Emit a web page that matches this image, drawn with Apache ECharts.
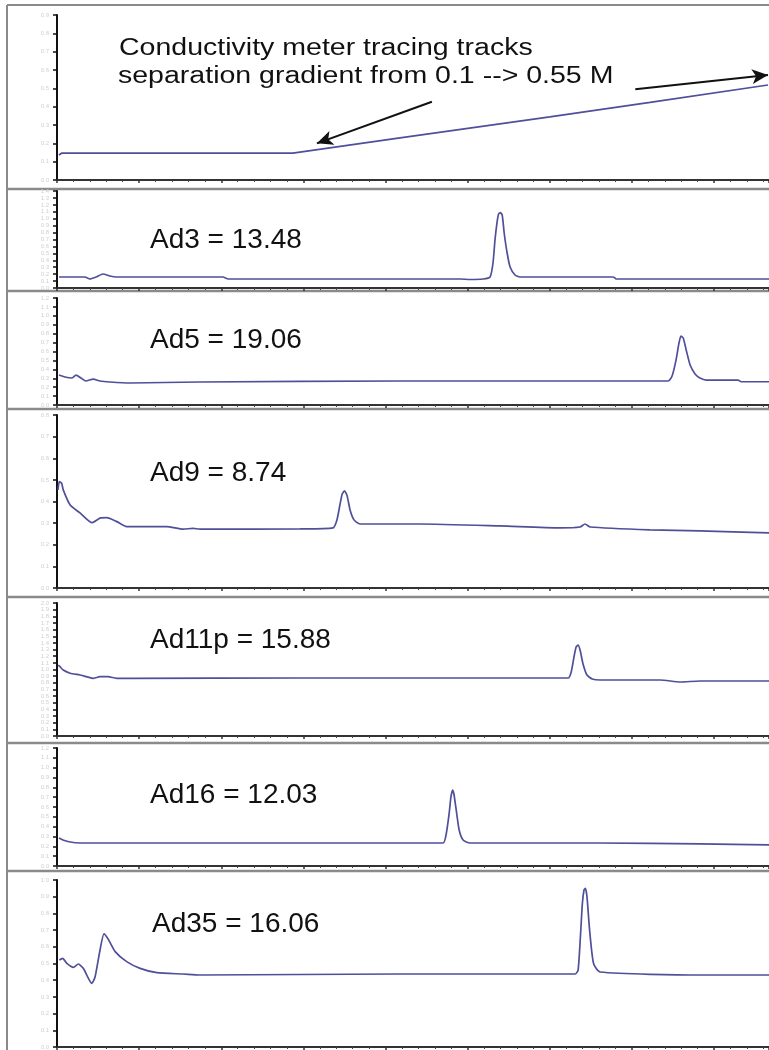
<!DOCTYPE html>
<html>
<head>
<meta charset="utf-8">
<script src="https://cdn.jsdelivr.net/npm/echarts@6/dist/echarts.min.js"></script>
<style>
html,body{margin:0;padding:0;background:#fff;}
#chart{width:769px;height:1050px;}
</style>
</head>
<body>
<div id="chart"></div>
<script>
// ---- DATA (elution time in min, detector signal in arbitrary units) ----
const xTickMin = 0;
const xTickMax = 21.67;
const xTickInterval = 2.5;

const conductivity = [[0.06,1.36],[0.15,1.47],[7.18,1.47],[10.44,2.30],[15.0,3.44],[18.05,4.23],[21.64,5.18]];

const ad3 = [[0.06,1.59],[0.85,1.59],[1.00,1.30],[1.19,1.59],[1.40,2.02],[1.61,1.73],[1.80,1.59],[5.05,1.59],[5.21,1.30],
  [12.27,1.30],[12.57,1.23],[12.97,1.30],[13.18,1.59],[13.27,3.61],[13.33,6.93],[13.39,9.38],[13.44,10.68],[13.49,10.87],
  [13.55,10.53],[13.61,7.94],[13.70,5.05],[13.79,3.03],[13.94,1.88],[14.09,1.59],[16.93,1.59],[17.02,1.30],[21.67,1.30]];

const ad5 = [[0.06,3.36],[0.24,3.14],[0.46,3.03],[0.58,3.36],[0.73,3.03],[0.88,2.69],[1.10,2.91],[1.31,2.69],[1.61,2.58],
  [2.22,2.47],[4.35,2.58],[10.44,2.69],[18.60,2.69],[18.72,3.25],[18.84,5.04],[18.93,6.95],[18.99,7.74],[19.06,7.51],
  [19.15,6.17],[19.27,4.48],[19.42,3.48],[19.57,3.03],[19.76,2.80],[20.73,2.80],[20.82,2.61],[21.67,2.61]];

const ad9 = [[0.03,4.54],[0.07,4.92],[0.14,4.85],[0.19,4.54],[0.40,3.84],[0.70,3.47],[1.06,3.02],[1.31,3.23],[1.51,3.25],
  [1.82,3.07],[2.12,2.84],[3.34,2.84],[3.84,2.72],[4.14,2.76],[4.35,2.72],[7.40,2.73],[8.40,2.78],[8.52,3.15],[8.61,3.84],
  [8.68,4.35],[8.75,4.49],[8.83,4.26],[8.92,3.61],[9.04,3.15],[9.22,2.96],[11.05,2.96],[13.49,2.87],[15.31,2.78],
  [15.92,2.82],[16.07,2.96],[16.23,2.82],[18.05,2.69],[19.57,2.64],[21.67,2.55]];

const ad11p = [[0.04,10.68],[0.09,10.42],[0.19,9.92],[0.40,9.43],[0.70,9.17],[0.90,8.92],[1.11,8.68],[1.31,8.92],[1.55,8.92],
  [1.82,8.68],[2.22,8.68],[7.40,8.72],[13.49,8.72],[15.56,8.72],[15.65,9.62],[15.74,12.03],[15.80,13.38],[15.86,13.68],
  [15.92,12.93],[16.01,10.83],[16.13,9.17],[16.29,8.57],[16.53,8.42],[18.36,8.42],[18.97,8.12],[19.57,8.27],[21.67,8.27]];

const ad16 = [[0.06,2.85],[0.18,2.65],[0.40,2.44],[0.70,2.34],[4.35,2.34],[7.40,2.34],[11.75,2.34],[11.84,3.15],[11.93,5.19],
  [11.99,7.02],[12.04,7.73],[12.08,7.32],[12.15,5.70],[12.24,3.66],[12.36,2.64],[12.57,2.34],[16.53,2.34],[19.57,2.24],[21.67,2.14]];

const ad35 = [[0.07,5.21],[0.17,5.31],[0.30,5.01],[0.50,4.77],[0.65,4.97],[0.80,4.71],[1.06,3.81],[1.16,4.21],[1.31,5.81],
  [1.43,6.77],[1.56,6.45],[1.77,5.71],[2.12,5.11],[2.53,4.71],[3.04,4.45],[3.84,4.37],[4.35,4.31],[10.44,4.37],[15.77,4.37],
  [15.86,4.61],[15.93,6.6],[15.99,8.6],[16.04,9.4],[16.08,9.5],[16.13,9.0],[16.21,7.0],[16.33,5.0],[16.53,4.49],[19.57,4.31],[21.67,4.31]];

const seriesData = [conductivity, ad3, ad5, ad9, ad11p, ad16, ad35];
const yTickMax = [9, 14, 12, 8, 20, 12, 10];
const panelLabels = ['Ad3 = 13.48', 'Ad5 = 19.06', 'Ad9 = 8.74', 'Ad11p = 15.88', 'Ad16 = 12.03', 'Ad35 = 16.06'];
const annotationLines = ['Conductivity meter tracing tracks', 'separation gradient from 0.1 --> 0.55 M'];
// arrows (data coords of panel 1): [from, to]
const arrows = [[[11.41, 4.27], [7.91, 2.0]], [[17.6, 4.95], [21.64, 5.73]]];

// ---- LAYOUT ----
const panelTops = [15, 191, 298, 415, 603, 748, 880];
const panelHeights = [165, 97, 107, 173, 133, 118, 167];
const separatorsY = [189, 291, 409, 597, 743, 871];
const labelPos = [[150, 240], [150, 340], [150, 473], [150, 640], [150, 795], [152, 924]];

const LINE = '#4f4f9a';
const grids = [], xAxes = [], yAxes = [], series = [];
for (let i = 0; i < 7; i++) {
  grids.push({left: 57, right: 0, top: panelTops[i], height: panelHeights[i], containLabel: false});
  xAxes.push({
    type: 'value', gridIndex: i, min: xTickMin, max: xTickMax, interval: xTickInterval,
    axisLine: {show: true, onZero: false, lineStyle: {color: '#333', width: 2}},
    axisTick: {show: true, inside: false, length: 3, lineStyle: {color: '#333', width: 1.5}},
    minorTick: {show: true, splitNumber: 5, length: 2, lineStyle: {color: '#444', width: 1}},
    axisLabel: {show: false}, splitLine: {show: false}
  });
  yAxes.push({
    type: 'value', gridIndex: i, min: 0, max: yTickMax[i], interval: 1,
    axisLine: {show: true, onZero: false, lineStyle: {color: '#111', width: 2}},
    axisTick: {show: true, inside: false, length: 4, lineStyle: {color: '#111', width: 1.5}},
    axisLabel: {show: true, color: '#d0d0d0', fontSize: 6, margin: 8, hideOverlap: true,
      formatter: v => (v / 10).toFixed(1)},
    splitLine: {show: false}
  });
  const s = {
    type: 'line', xAxisIndex: i, yAxisIndex: i, data: seriesData[i], showSymbol: false, symbol: 'none',
    smooth: i === 0 ? false : 0.2, lineStyle: {color: LINE, width: 1.7}, silent: true, animation: false
  };
  if (i === 0) {
    s.markLine = {
      silent: true, animation: false, symbol: ['none', 'arrow'], symbolSize: [11, 16],
      label: {show: false},
      lineStyle: {color: '#111', width: 2, type: 'solid'},
      data: arrows.map(a => [{coord: a[0]}, {coord: a[1]}])
    };
  }
  series.push(s);
}

const graphics = [];
graphics.push({type: 'line', shape: {x1: 7, y1: 5, x2: 7, y2: 1050}, style: {stroke: '#8a8a8a', lineWidth: 2}, silent: true});
graphics.push({type: 'line', shape: {x1: 7, y1: 5, x2: 769, y2: 5}, style: {stroke: '#8a8a8a', lineWidth: 2}, silent: true});
separatorsY.forEach(y => graphics.push({type: 'line', shape: {x1: 7, y1: y, x2: 769, y2: y}, style: {stroke: '#8a8a8a', lineWidth: 2.5}, silent: true}));
graphics.push({type: 'text', x: 119, y: 49, scaleX: 1.24, style: {text: annotationLines[0], x: 0, y: 0, fill: '#111', font: '23px "Liberation Sans", Arial, sans-serif', verticalAlign: 'middle'}});
graphics.push({type: 'text', x: 118, y: 77, scaleX: 1.24, style: {text: annotationLines[1], x: 0, y: 0, fill: '#111', font: '23px "Liberation Sans", Arial, sans-serif', verticalAlign: 'middle'}});
panelLabels.forEach((t, k) => graphics.push({type: 'text', x: labelPos[k][0], y: labelPos[k][1], style: {text: t, x: 0, y: 0, fill: '#111', font: '28px "Liberation Sans", Arial, sans-serif', verticalAlign: 'middle'}}));

const chart = echarts.init(document.getElementById('chart'), null, {renderer: 'canvas'});
chart.setOption({
  animation: false,
  backgroundColor: '#ffffff',
  grid: grids, xAxis: xAxes, yAxis: yAxes, series: series,
  graphic: graphics
});
</script>
</body>
</html>
